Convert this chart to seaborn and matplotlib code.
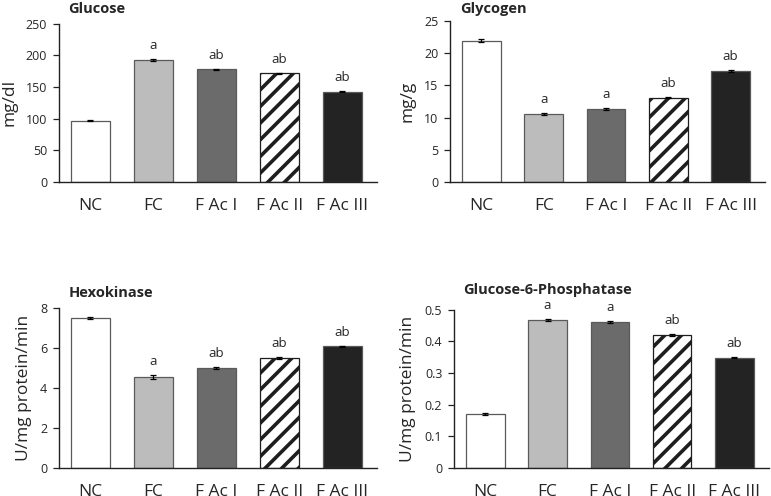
import numpy as np
import pandas as pd
import matplotlib
matplotlib.use('Agg')
import matplotlib.pyplot as plt
from matplotlib.ticker import FuncFormatter
import seaborn as sns

# dados
grupos = ['NC', 'FC', 'F Ac I', 'F Ac II', 'F Ac III']

glicose = [97, 193, 178, 172, 143]
glicose_err = [0.8, 1.5, 1.0, 0.8, 1.2]
glicose_letras = ['', 'a', 'ab', 'ab', 'ab']

glicogenio = [21.9, 10.6, 11.3, 13.1, 17.2]
glicogenio_err = [0.25, 0.15, 0.12, 0.08, 0.18]
glicogenio_letras = ['', 'a', 'a', 'ab', 'ab']

hexoquinase = [7.5, 4.55, 4.98, 5.48, 6.08]
hexoquinase_err = [0.04, 0.1, 0.06, 0.06, 0.03]
hexoquinase_letras = ['', 'a', 'ab', 'ab', 'ab']

g6p = [0.17, 0.467, 0.462, 0.42, 0.348]
g6p_err = [0.004, 0.003, 0.004, 0.002, 0.002]
g6p_letras = ['', 'a', 'a', 'ab', 'ab']

cores = ['#ffffff', '#bcbcbc', '#6b6b6b', '#ffffff', '#232323']

sns.set_style('white')
plt.rcParams['font.family'] = ['Open Sans', 'DejaVu Sans']
plt.rcParams['hatch.linewidth'] = 2.6

fig = plt.figure(figsize=(7.71, 4.96), dpi=100)

# titulo, valores, erros, letras, unidade, ymax, passo, posicao, pad do titulo
paineis = [
    ('Glucose', glicose, glicose_err, glicose_letras, 'mg/dl', 250, 50,
     [0.0765, 0.633, 0.412, 0.319], 7.7),
    ('Glycogen', glicogenio, glicogenio_err, glicogenio_letras, 'mg/g', 25, 5,
     [0.584, 0.633, 0.408, 0.325], 5.5),
    ('Hexokinase', hexoquinase, hexoquinase_err, hexoquinase_letras,
     'U/mg protein/min', 8, 2, [0.0765, 0.0565, 0.412, 0.323], 7.5),
    ('Glucose-6-Phosphatase', g6p, g6p_err, g6p_letras,
     'U/mg protein/min', 0.5, 0.1, [0.589, 0.0565, 0.408, 0.319], 11),
]

for titulo, valores, erros, letras, unidade, ymax, passo, pos, tpad in paineis:
    ax = fig.add_axes(pos)
    df = pd.DataFrame({'grupo': grupos, 'valor': valores})
    sns.barplot(data=df, x='grupo', y='valor', hue='grupo', palette=cores,
                width=0.62, edgecolor='#5a5a5a', linewidth=0.9,
                legend=False, ax=ax)
    # barra listrada (F Ac II)
    listrada = ax.patches[3]
    listrada.set_hatch('//')
    listrada.set_facecolor('white')
    listrada.set_edgecolor('#1e1e1e')

    x = np.arange(len(grupos))
    ax.errorbar(x, valores, yerr=erros, fmt='none', ecolor='black',
                elinewidth=0.9, capsize=2.5, capthick=0.9)
    for xi, v, e, l in zip(x, valores, erros, letras):
        if l:
            ax.annotate(l, (xi, v + e), xytext=(0, 5), textcoords='offset points',
                        ha='center', va='bottom', fontsize=9.5)

    ax.set_ylim(0, ymax)
    ax.set_yticks(np.arange(0, ymax + passo / 2, passo))
    ax.yaxis.set_major_formatter(FuncFormatter(lambda v, p: f'{v:g}'))
    ax.set_xlim(-0.5, 4.55)
    ax.set_xlabel('')
    ax.set_ylabel(unidade, fontsize=12.5, labelpad=6)
    ax.set_title(titulo, loc='left', fontsize=10.5, fontweight='bold',
                 x=0.03, pad=tpad)
    sns.despine(ax=ax)
    for s in ['left', 'bottom']:
        ax.spines[s].set_color('#222222')
        ax.spines[s].set_linewidth(1.0)
    ax.tick_params(axis='y', left=True, length=4.5, width=0.9, color='#222222',
                   labelsize=9, pad=4)
    ax.tick_params(axis='x', bottom=False, labelsize=12.5, pad=8)

fig.savefig('out.png', dpi=100)
